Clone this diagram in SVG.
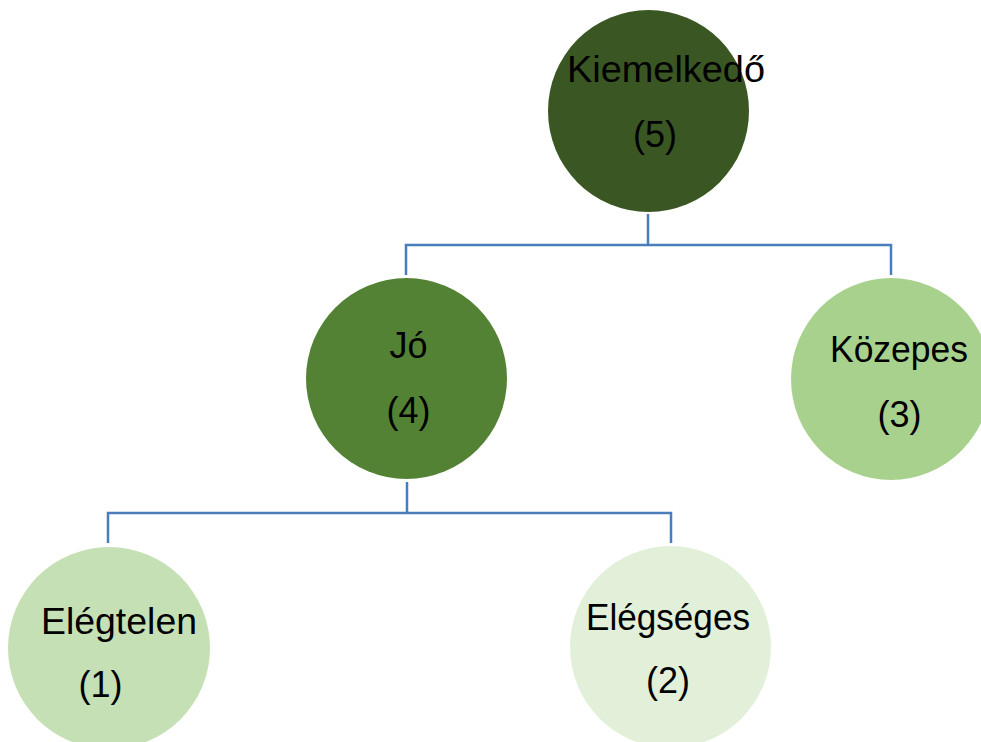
<svg xmlns="http://www.w3.org/2000/svg" width="981" height="742" viewBox="0 0 981 742">
<style>
.lbl{font-family:"Liberation Sans",Arial,sans-serif;font-size:36px;fill:#000;text-anchor:middle}
.conn{fill:none;stroke:#4A7EBB;stroke-width:2.5}
</style>
<rect width="981" height="742" fill="#fff"/>
<g id="connectors">
<path class="conn" d="M648,214 V245 M406,275 V245 H891 V275"/>
<path class="conn" d="M407,482 V513 M108,543 V513 H671 V543"/>
</g>
<g id="n5">
<ellipse cx="648.5" cy="111" rx="100.5" ry="101" fill="#3A5723"/>
<text class="lbl" x="666" y="82" textLength="198" lengthAdjust="spacingAndGlyphs">Kiemelkedő</text>
<text class="lbl" x="655" y="147">(5)</text>
</g>
<g id="n4">
<ellipse cx="406.5" cy="378.5" rx="100.5" ry="100.5" fill="#548235"/>
<text class="lbl" x="408.5" y="358">Jó</text>
<text class="lbl" x="408.5" y="423">(4)</text>
</g>
<g id="n3">
<ellipse cx="891" cy="379" rx="100" ry="101" fill="#A9D18E"/>
<text class="lbl" x="899" y="362" textLength="138" lengthAdjust="spacingAndGlyphs">Közepes</text>
<text class="lbl" x="899.5" y="427">(3)</text>
</g>
<g id="n1">
<ellipse cx="109" cy="648" rx="101" ry="101" fill="#C5E0B4"/>
<text class="lbl" x="119" y="634" textLength="156" lengthAdjust="spacingAndGlyphs">Elégtelen</text>
<text class="lbl" x="100.5" y="697">(1)</text>
</g>
<g id="n2">
<ellipse cx="670.5" cy="647" rx="100.5" ry="101" fill="#E2F0D9"/>
<text class="lbl" x="668" y="630" textLength="164" lengthAdjust="spacingAndGlyphs">Elégséges</text>
<text class="lbl" x="668" y="693">(2)</text>
</g>
</svg>
